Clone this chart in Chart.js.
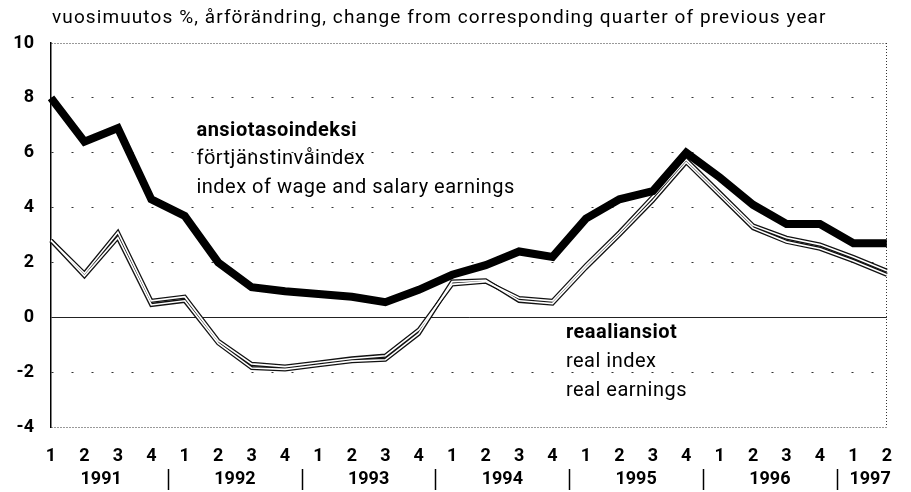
<!DOCTYPE html>
<html>
<head>
<meta charset="utf-8">
<script src="https://cdn.jsdelivr.net/npm/chart.js@4/dist/chart.umd.min.js"></script>
<style>
  html, body { margin: 0; padding: 0; background: #fff; }
  #wrap { width: 911px; height: 492px; position: relative; }
</style>
</head>
<body>
<div id="wrap"><canvas id="myChart"></canvas></div>
<script>
const quarters = ['1','2','3','4','1','2','3','4','1','2','3','4','1','2','3','4','1','2','3','4','1','2','3','4','1','2'];
const years = ['1991','1992','1993','1994','1995','1996','1997'];
const yearCenters = [1.5, 5.5, 9.5, 13.5, 17.5, 21.5, 24.5];
const yearSeparators = [3.5, 7.5, 11.5, 15.5, 19.5, 23.5];

const wageIndex = [8.0, 6.4, 6.9, 4.3, 3.7, 2.0, 1.1, 0.95, 0.85, 0.75, 0.55, 1.0, 1.55,
                   1.9, 2.4, 2.2, 3.6, 4.3, 4.6, 6.0, 5.1, 4.1, 3.4, 3.4, 2.7, 2.7];
const realIndex = [2.8, 1.6, 3.1, 0.6, 0.75, -0.85, -1.7, -1.8, -1.65, -1.5, -1.4, -0.45, 1.2,
                   1.3, 0.7, 0.6, 1.9, 3.1, 4.4, 5.75, 4.55, 3.35, 2.9, 2.65, 2.2, 1.7];
const realEarnings = [2.8, 1.5, 2.9, 0.45, 0.6, -0.95, -1.85, -1.9, -1.75, -1.6, -1.55, -0.6, 1.3,
                      1.35, 0.6, 0.5, 1.8, 3.0, 4.25, 5.65, 4.45, 3.25, 2.75, 2.5, 2.05, 1.55];

const titleText = 'vuosimuutos %, årförändring, change from corresponding quarter of previous year';
const wageLabels = ['ansiotasoindeksi', 'förtjänstinvåindex', 'index of wage and salary earnings'];
const realLabels = ['reaaliansiot', 'real index', 'real earnings'];

const FONT = 'Roboto, "Liberation Sans", sans-serif';

// title, series labels and year row
const extras = {
  id: 'extras',
  afterDatasetsDraw(chart) {
    const {ctx, chartArea, scales: {x, y}} = chart;
    ctx.save();
    ctx.fillStyle = '#000';
    ctx.textBaseline = 'middle';
    ctx.textAlign = 'left';

    ctx.font = '19px ' + FONT;
    ctx.letterSpacing = '1.1px';
    ctx.fillText(titleText, chartArea.left + 1, 18);

    ctx.letterSpacing = '0.5px';
    const wx = x.getPixelForValue(4.35);
    ctx.font = 'bold 20px ' + FONT;
    ctx.fillText(wageLabels[0], wx, 131);
    ctx.font = '20px ' + FONT;
    ctx.fillText(wageLabels[1], wx, 159);
    ctx.fillText(wageLabels[2], wx, 188);

    const rx = x.getPixelForValue(15.4);
    ctx.font = 'bold 20px ' + FONT;
    ctx.fillText(realLabels[0], rx, 333);
    ctx.font = '20px ' + FONT;
    ctx.fillText(realLabels[1], rx, 362);
    ctx.fillText(realLabels[2], rx, 391);

    // year row
    ctx.letterSpacing = '0px';
    ctx.textAlign = 'center';
    ctx.font = 'bold 18px ' + FONT;
    years.forEach((yr, i) => {
      ctx.fillText(yr, x.getPixelForValue(yearCenters[i]), 479);
    });
    ctx.strokeStyle = '#000';
    ctx.lineWidth = 1.5;
    yearSeparators.forEach(v => {
      const px = Math.round(x.getPixelForValue(v)) + 0.5;
      ctx.beginPath();
      ctx.moveTo(px, 469);
      ctx.lineTo(px, 490);
      ctx.stroke();
    });
    ctx.restore();
  }
};

const data = {
  labels: quarters,
  datasets: [
    {
      label: 'ansiotasoindeksi',
      data: wageIndex,
      borderColor: '#000',
      borderWidth: 8,
      borderJoinStyle: 'miter',
      order: 0
    },
    {
      label: 'real index core',
      data: realIndex,
      borderColor: '#fff',
      borderWidth: 1.6,
      order: 1
    },
    {
      label: 'real earnings core',
      data: realEarnings,
      borderColor: '#fff',
      borderWidth: 1.6,
      order: 1
    },
    {
      label: 'real index',
      data: realIndex,
      borderColor: '#111',
      borderWidth: 4.2,
      order: 2
    },
    {
      label: 'real earnings',
      data: realEarnings,
      borderColor: '#111',
      borderWidth: 4.2,
      order: 2
    }
  ]
};

const config = {
  type: 'line',
  data,
  options: {
    responsive: true,
    maintainAspectRatio: false,
    animation: false,
    layout: { padding: { top: 43, right: 6, left: 0, bottom: 0 } },
    elements: {
      point: { radius: 0 },
      line: { tension: 0, borderCapStyle: 'butt' }
    },
    plugins: {
      legend: { display: false },
      tooltip: { enabled: false },
      title: { display: false }
    },
    scales: {
      x: {
        offset: false,
        afterFit: (s) => { s.height = 65; },
        grid: {
          drawTicks: false,
          color: (c) => c.index === quarters.length - 1 ? '#333' : 'rgba(0,0,0,0)',
          lineWidth: 1
        },
        border: { display: false, dash: [1, 2] },
        ticks: {
          color: '#000',
          padding: 19,
          autoSkip: false,
          maxRotation: 0,
          font: { family: FONT, size: 18, weight: 'bold' }
        }
      },
      y: {
        min: -4,
        max: 10,
        afterFit: (s) => { s.width = 51; },
        ticks: {
          stepSize: 2,
          color: '#000',
          padding: 17,
          font: { family: FONT, size: 18, weight: 'bold' }
        },
        grid: {
          drawTicks: false,
          color: (c) => c.tick && c.tick.value === 0 ? '#222' : '#333',
          lineWidth: 1
        },
        border: {
          display: true,
          color: '#000',
          width: 1.5,
          dash: (c) => {
            const v = c.tick ? c.tick.value : null;
            if (v === 0) return [];
            if (v === 10 || v === -4) return [1, 2];
            return [2, 18];
          }
        }
      }
    }
  },
  plugins: [extras]
};

var myChart = new Chart(
  document.getElementById('myChart').getContext('2d'),
  config
);
</script>
</body>
</html>
